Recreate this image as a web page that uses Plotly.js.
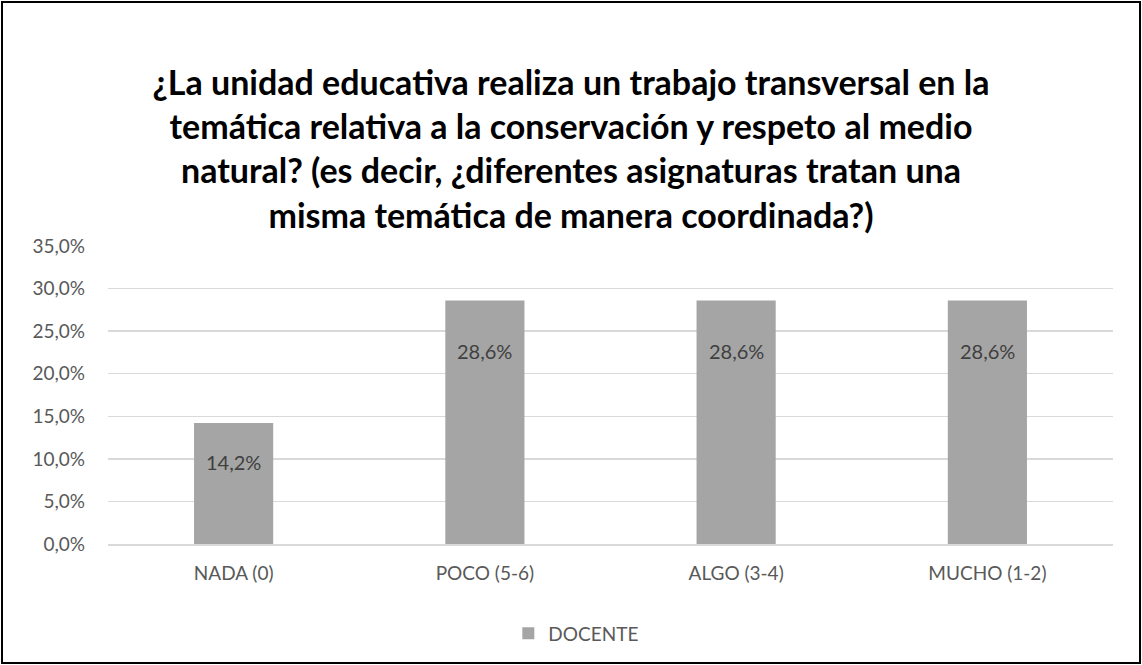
<!DOCTYPE html>
<html>
<head>
<meta charset="utf-8">
<script src="https://cdn.plot.ly/plotly-3.0.1.min.js"></script>
<style>
html,body{margin:0;padding:0;background:#fff;}
#wrap{position:relative;width:1142px;height:665px;}
#chart{width:1142px;height:665px;}
#frame{position:absolute;left:1px;top:1px;width:1136px;height:659px;border:2px solid #000;pointer-events:none;}
</style>
</head>
<body>
<div id="wrap"><div id="chart"></div><div id="frame"></div></div>
<script>
const categories = ["NADA (0)", "POCO (5-6)", "ALGO (3-4)", "MUCHO (1-2)"];
const values = [0.142, 0.286, 0.286, 0.286];
const labels = ["14,2%", "28,6%", "28,6%", "28,6%"];
const seriesName = "DOCENTE";
const titleText = "¿La unidad educativa realiza un trabajo transversal en la<br>temática relativa a la conservación y respeto al medio<br>natural? (es decir, ¿diferentes asignaturas tratan una<br>misma temática de manera coordinada?)";

const fontFam = "Lato, 'Liberation Sans', Arial, sans-serif";

const trace = {
  type: "bar",
  x: categories,
  y: values,
  name: seriesName,
  marker: {color: "#a5a5a5"},
  hoverinfo: "skip"
};

// label offsets below bar tops (styling)
const labelShift = [-39, -51, -51, -51];
const annotations = categories.map((c, i) => ({
  x: c, y: values[i], xref: "x", yref: "y",
  text: labels[i], showarrow: false,
  yanchor: "middle", yshift: labelShift[i],
  font: {family: fontFam, size: 20, color: "#404040"}
}));

const layout = {
  width: 1142, height: 665,
  separators: ",.",
  paper_bgcolor: "#fff", plot_bgcolor: "#fff",
  margin: {l: 108, r: 29, t: 246, b: 117},
  title: {
    text: titleText,
    x: 0.5, xref: "container", xanchor: "center",
    y: 1 - 95/665, yref: "container", yanchor: "middle",
    font: {family: fontFam, size: 34, color: "#000", weight: "bold"}
  },
  bargap: 0.685,
  showlegend: true,
  legend: {
    orientation: "h", x: 0.466, xanchor: "center", y: -0.3, yanchor: "middle",
    font: {family: fontFam, size: 19, color: "#595959"}
  },
  xaxis: {
    type: "category",
    showgrid: false, showline: true, linecolor: "#d9d9d9", linewidth: 1.5,
    ticks: "", tickfont: {family: fontFam, size: 19, color: "#595959"},
    ticklabelstandoff: 12,
    fixedrange: true
  },
  yaxis: {
    range: [0, 0.35], dtick: 0.05, tickformat: ".1%",
    showgrid: true, gridcolor: "#d9d9d9", gridwidth: 1.5,
    zeroline: false, showline: false, ticks: "",
    tickfont: {family: fontFam, size: 19, color: "#595959"},
    ticklabelstandoff: 22,
    fixedrange: true
  },
  annotations: annotations
};

Plotly.newPlot("chart", [trace], layout, {displayModeBar: false, staticPlot: true});
</script>
</body>
</html>
